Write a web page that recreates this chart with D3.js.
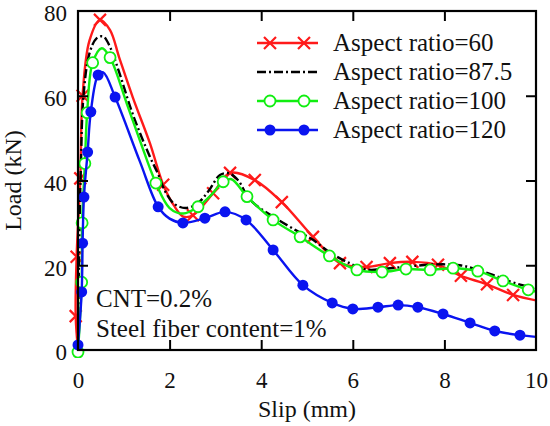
<!DOCTYPE html>
<html><head><meta charset="utf-8">
<script src="https://cdn.jsdelivr.net/npm/d3@7"></script>
<style>body{margin:0;background:#fff}svg{display:block}text{font-family:"Liberation Serif","Times New Roman",serif;fill:#111}</style>
</head><body><div id="c"></div>
<script>
// ---- data (slip mm, load kN) ----
const xTicks = [0, 2, 4, 6, 8, 10];
const yTicks = [0, 20, 40, 60, 80];
const seriesNames = ["Aspect ratio=60", "Aspect ratio=87.5", "Aspect ratio=100", "Aspect ratio=120"];

const ar60Line = [[0,0],[-0.05,8],[-0.03,22],[0.05,40.5],[0.1,60],[0.25,73],[0.48,77.9],[0.7,75.5],[0.9,69],[1.2,59.5],[1.57,48.8],[1.86,39],[2.1,34],[2.3,31.5],[2.51,31.8],[2.95,37],[3.32,41.8],[3.86,40.1],[4.45,34.9],[5.13,26.7],[5.72,20.5],[6.3,19.6],[6.81,20.5],[7.3,20.8],[7.86,20.1],[8.36,17.5],[8.93,15.5],[9.5,13],[10,11.7]];
const ar60Marks = [[-0.05,8],[-0.03,22],[0.05,40.5],[0.1,60],[0.48,77.9],[1.86,39],[2.51,31.8],[2.95,37],[3.32,41.8],[3.86,40.1],[4.45,34.9],[5.13,26.7],[5.72,20.5],[6.3,19.6],[6.81,20.5],[7.3,20.8],[7.86,20.1],[8.36,17.5],[8.93,15.5],[9.5,13]];

const ar875Line = [[0,0],[0.02,20],[0.06,42],[0.12,60],[0.25,70],[0.4,73.5],[0.55,74],[0.7,71.5],[0.9,65.5],[1.2,55.5],[1.57,45.6],[1.75,41.5],[1.9,37.5],[2.1,34.5],[2.35,33.5],[2.6,34.5],[2.85,37.5],[3.1,41.3],[3.3,41.7],[3.5,40],[3.76,35.4],[4.3,31.2],[4.8,28],[5.13,26],[5.5,23],[5.87,20.8],[6.3,19],[6.81,19.3],[7.3,19.8],[7.8,20.2],[8.34,20],[8.7,19],[9.06,17.7],[9.4,16.3],[9.7,15.3],[10,14.6]];

const ar100Line = [[0,-0.5],[0.08,16],[0.09,30],[0.15,44],[0.2,56],[0.32,67.8],[0.52,71.2],[0.7,69],[1.07,58],[1.35,49.5],[1.7,39.4],[2.0,33.5],[2.3,32.2],[2.62,33.8],[2.9,36.5],[3.17,39.7],[3.35,40.3],[3.69,36.2],[4.26,30.7],[4.85,26.7],[5.49,22.2],[6.09,18.9],[6.64,18.4],[7.16,19.1],[7.69,18.9],[8.19,19.3],[8.73,18.6],[9.28,16.3],[9.83,14.2],[10,13.8]];
const ar100Marks = [[0,-0.5],[0.08,16],[0.09,30],[0.15,44],[0.2,56],[0.32,67.8],[0.7,69],[1.7,39.4],[2.62,33.8],[3.17,39.7],[3.69,36.2],[4.26,30.7],[4.85,26.7],[5.49,22.2],[6.09,18.9],[6.64,18.4],[7.16,19.1],[7.69,18.9],[8.19,19.3],[8.73,18.6],[9.28,16.3],[9.83,14.2]];

const ar120Line = [[0,1.2],[0.08,13.7],[0.1,25.2],[0.13,36.1],[0.21,46.7],[0.28,56.2],[0.44,64.9],[0.55,65.5],[0.81,59.7],[1.35,44.5],[1.75,33.8],[2.0,31],[2.29,30],[2.77,31.1],[3.21,32.6],[3.67,30.7],[4.26,23.6],[4.91,15.3],[5.55,11.1],[6.0,9.7],[6.55,10.1],[6.99,10.6],[7.42,10.1],[7.97,8.5],[8.56,6.4],[9.1,4.5],[9.65,3.5],[10,3.1]];
const ar120Marks = [[0,1.2],[0.08,13.7],[0.1,25.2],[0.13,36.1],[0.21,46.7],[0.28,56.2],[0.44,64.9],[0.81,59.7],[1.75,33.8],[2.29,30],[2.77,31.1],[3.21,32.6],[3.67,30.7],[4.26,23.6],[4.91,15.3],[5.55,11.1],[6.0,9.7],[6.55,10.1],[6.99,10.6],[7.42,10.1],[7.97,8.5],[8.56,6.4],[9.1,4.5],[9.65,3.5]];

const notes = ["CNT=0.2%", "Steel fiber content=1%"];

// ---- drawing ----
const W = 550, H = 426;
const m = {l: 78, r: 14, t: 11, b: 76};
const svg = d3.select("#c").append("svg").attr("width", W).attr("height", H);
const x = d3.scaleLinear().domain([0, 10]).range([m.l, W - m.r]);
const y = d3.scaleLinear().domain([0, 80]).range([H - m.b, m.t]);

svg.append("clipPath").attr("id", "pc").append("rect")
  .attr("x", m.l - 10).attr("y", m.t - 6).attr("width", W - m.r - m.l + 10).attr("height", H - m.b - m.t + 14);

const line = d3.line().x(d => x(d[0])).y(d => y(d[1])).curve(d3.curveCatmullRom.alpha(0.5));
const g = svg.append("g").attr("clip-path", "url(#pc)");

const series = [
  {name: seriesNames[0], line: ar60Line, marks: ar60Marks, color: "#ff1a1a", marker: "x", dash: null},
  {name: seriesNames[1], line: ar875Line, marks: [], color: "#000", marker: null, dash: "9,3,2,3"},
  {name: seriesNames[2], line: ar100Line, marks: ar100Marks, color: "#11ee11", marker: "o", dash: null},
  {name: seriesNames[3], line: ar120Line, marks: ar120Marks, color: "#0a14f0", marker: "f", dash: null}
];

function drawMarker(sel, type, color, cx, cy) {
  if (type === "x") {
    const s = 6;
    sel.append("path").attr("d", `M${cx-s},${cy-s}L${cx+s},${cy+s}M${cx-s},${cy+s}L${cx+s},${cy-s}`)
      .attr("stroke", color).attr("stroke-width", 2.2).attr("fill", "none");
  } else if (type === "o") {
    sel.append("circle").attr("cx", cx).attr("cy", cy).attr("r", 5.5)
      .attr("fill", "#fff").attr("stroke", color).attr("stroke-width", 1.8);
  } else if (type === "f") {
    sel.append("circle").attr("cx", cx).attr("cy", cy).attr("r", 5.5).attr("fill", color);
  }
}

series.forEach(s => {
  g.append("path").datum(s.line).attr("d", line).attr("fill", "none")
    .attr("stroke", s.color).attr("stroke-width", 2.4)
    .attr("stroke-dasharray", s.dash);
  s.marks.forEach(p => drawMarker(g, s.marker, s.color, x(p[0]), y(p[1])));
});

// frame
svg.append("rect").attr("x", m.l).attr("y", m.t).attr("width", W - m.r - m.l).attr("height", H - m.b - m.t)
  .attr("fill", "none").attr("stroke", "#000").attr("stroke-width", 2.2);

// axes (inward ticks)
const fs = "23px";
const xb = svg.append("g").attr("transform", `translate(0,${H - m.b})`)
  .call(d3.axisBottom(x).tickValues(xTicks).tickSize(-10).tickPadding(22).tickFormat(d3.format("d")));
const xt = svg.append("g").attr("transform", `translate(0,${m.t})`)
  .call(d3.axisTop(x).tickValues(xTicks.slice(1, -1)).tickSize(-10).tickFormat(""));
const yl = svg.append("g").attr("transform", `translate(${m.l},0)`)
  .call(d3.axisLeft(y).tickValues(yTicks).tickSize(-10).tickPadding(11).tickFormat(d3.format("d")));
const yr = svg.append("g").attr("transform", `translate(${W - m.r},0)`)
  .call(d3.axisRight(y).tickValues(yTicks.slice(1, -1)).tickSize(-10).tickFormat(""));
[xb, xt, yl, yr].forEach(a => {
  a.select(".domain").remove();
  a.selectAll(".tick line").attr("stroke", "#000").attr("stroke-width", 2);
  a.selectAll("text").style("font-size", fs).style("font-family", '"Liberation Serif",serif').attr("fill", "#111");
});
yl.selectAll("text").attr("dy", "0.43em");
xb.selectAll(".tick").filter(d => d === 0 || d === 10).select("line").remove();
yl.selectAll(".tick").filter(d => d === 0 || d === 80).select("line").remove();

// axis titles
svg.append("text").attr("x", (m.l + W - m.r) / 2).attr("y", 417).attr("text-anchor", "middle")
  .style("font-size", "24px").text("Slip (mm)");
svg.append("text").attr("transform", `translate(21,${(m.t + H - m.b) / 2}) rotate(-90)`).attr("text-anchor", "middle")
  .style("font-size", "24px").text("Load (kN)");

// legend
const lg = svg.append("g");
series.forEach((s, i) => {
  const cy = 43 + i * 29;
  lg.append("line").attr("x1", 257).attr("x2", 318).attr("y1", cy).attr("y2", cy)
    .attr("stroke", s.color).attr("stroke-width", 2.4).attr("stroke-dasharray", s.dash);
  if (s.marker) { drawMarker(lg, s.marker, s.color, 270, cy); drawMarker(lg, s.marker, s.color, 304, cy); }
  lg.append("text").attr("x", 333).attr("y", cy + 8).style("font-size", "25px").text(s.name);
});

// notes
notes.forEach((t, i) => {
  svg.append("text").attr("x", 96).attr("y", 307 + i * 30).style("font-size", "25px").text(t);
});
</script>
</body></html>
